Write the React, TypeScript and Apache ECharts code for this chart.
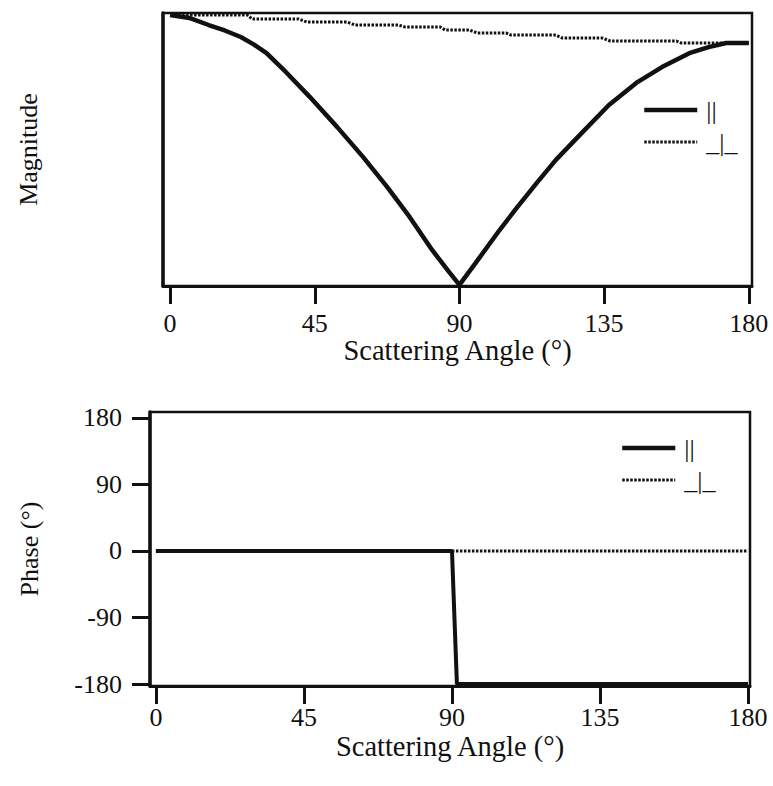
import React, { useEffect, useRef } from "react";
import * as echarts from "echarts";

// Top plot: magnitude (arbitrary units) vs scattering angle
const parAngles = [0, 6, 12, 17, 22, 26, 30, 36, 43.5, 52, 60, 67.5, 74.5, 81.5, 87, 90, 95, 102.5, 108, 114, 120, 128, 136.5, 145, 153, 161.5, 167.5, 173, 180];
const parMag = [0.993, 0.982, 0.956, 0.936, 0.912, 0.885, 0.853, 0.784, 0.692, 0.582, 0.473, 0.363, 0.253, 0.132, 0.048, 0.004, 0.084, 0.205, 0.289, 0.377, 0.462, 0.56, 0.663, 0.744, 0.802, 0.853, 0.875, 0.89, 0.89];
const perpAngles = [0, 24, 25.5, 40, 42.5, 55, 57.5, 71, 73, 84, 85.5, 93, 95.5, 104.5, 106, 120, 122, 134.5, 137, 157.5, 159, 180];
const perpMag = [0.993, 0.993, 0.978, 0.978, 0.967, 0.967, 0.956, 0.956, 0.949, 0.949, 0.938, 0.938, 0.927, 0.927, 0.919, 0.919, 0.908, 0.908, 0.897, 0.897, 0.89, 0.89];

// Bottom plot: phase (degrees)
const phaseParAngles = [0, 90, 91.5, 180];
const phasePar = [0, 0, -180, -180];
const phasePerpAngles = [0, 180];
const phasePerp = [0, 0];

const angleTicks = [0, 45, 90, 135, 180];
const phaseTicks = [-180, -90, 0, 90, 180];

const PAR = "||";
const PERP = "_|_";

const FONT = '"Liberation Serif", "Times New Roman", serif';
const INK = "#111";

const zip = (xs: number[], ys: number[]) => xs.map((x, i) => [x, ys[i]]);

export default function App() {
  const ref = useRef<HTMLDivElement>(null);
  useEffect(() => {
    document.body.style.margin = "0";
    const chart = echarts.init(ref.current!, null, { renderer: "svg" });
    const xCommon = (gridIndex: number, min: number, max: number, margin: number, nameGap: number) => ({
      type: "value",
      gridIndex,
      min,
      max,
      name: "Scattering Angle (°)",
      nameLocation: "middle",
      nameGap,
      nameMoveOverlap: false,
      nameTextStyle: { fontFamily: FONT, fontSize: 28.5, color: INK },
      axisLine: { show: true, onZero: false, lineStyle: { color: INK, width: 3 } },
      axisTick: { show: true, length: 18, customValues: angleTicks, lineStyle: { color: INK, width: 3 } },
      axisLabel: { show: true, customValues: angleTicks, margin, fontFamily: FONT, fontSize: 26, color: INK },
      splitLine: { show: false },
    });
    const solid = { color: INK, width: 4.5, type: "solid" };
    const dotted = { color: INK, width: 3, type: [2.5, 1.5] };
    const legendBase = {
      orient: "vertical",
      itemWidth: 53,
      itemHeight: 20,
      itemGap: 6,
      padding: 0,
      selectedMode: false,
      data: [
        { name: PAR, lineStyle: { width: 4.5, color: INK, type: "solid" } },
        { name: PERP, lineStyle: { width: 3, color: INK, type: [2.5, 1.5] } },
      ],
      itemStyle: { opacity: 0 },
      textStyle: { fontFamily: FONT, fontSize: 26, color: INK, padding: [0, 0, 0, 4] },
    };
    chart.setOption({
      animation: false,
      backgroundColor: "#fff",
      grid: [
        { left: 163, top: 13, width: 589, height: 273, show: true, borderColor: INK, borderWidth: 2.5 },
        { left: 150, top: 412, width: 600, height: 274, show: true, borderColor: INK, borderWidth: 2.5 },
      ],
      legend: [
        { ...legendBase, left: 642, top: 97 },
        { ...legendBase, left: 620, top: 435 },
      ],
      xAxis: [xCommon(0, -2.2, 181, 24, 50), xCommon(1, -1.8, 180.6, 18, 46)],
      yAxis: [
        {
          type: "value",
          gridIndex: 0,
          min: 0,
          max: 1,
          name: "Magnitude",
          nameLocation: "middle",
          nameGap: 122,
          nameTextStyle: { fontFamily: FONT, fontSize: 26, color: INK },
          axisLine: { show: true, onZero: false, lineStyle: { color: INK, width: 3.5 } },
          axisTick: { show: false },
          axisLabel: { show: false },
          splitLine: { show: false },
        },
        {
          type: "value",
          gridIndex: 1,
          min: -182.7,
          max: 188.1,
          name: "Phase (°)",
          nameLocation: "middle",
          nameGap: 108,
          nameTextStyle: { fontFamily: FONT, fontSize: 26, color: INK },
          axisLine: { show: true, onZero: false, lineStyle: { color: INK, width: 3.5 } },
          axisTick: { show: true, length: 18, customValues: phaseTicks, lineStyle: { color: INK, width: 3 } },
          axisLabel: { show: true, customValues: phaseTicks, margin: 28, fontFamily: FONT, fontSize: 26, color: INK },
          splitLine: { show: false },
        },
      ],
      series: [
        { name: PERP, type: "line", xAxisIndex: 0, yAxisIndex: 0, symbol: "none", data: zip(perpAngles, perpMag), lineStyle: dotted, itemStyle: { color: INK } },
        { name: PAR, type: "line", xAxisIndex: 0, yAxisIndex: 0, symbol: "none", data: zip(parAngles, parMag), lineStyle: solid, itemStyle: { color: INK } },
        { name: PERP, type: "line", xAxisIndex: 1, yAxisIndex: 1, symbol: "none", data: zip(phasePerpAngles, phasePerp), lineStyle: dotted, itemStyle: { color: INK } },
        { name: PAR, type: "line", xAxisIndex: 1, yAxisIndex: 1, symbol: "none", data: zip(phaseParAngles, phasePar), lineStyle: { ...solid, width: 4 }, itemStyle: { color: INK } },
      ],
    });
    return () => chart.dispose();
  }, []);
  return <div ref={ref} style={{ width: 773, height: 786 }} />;
}
